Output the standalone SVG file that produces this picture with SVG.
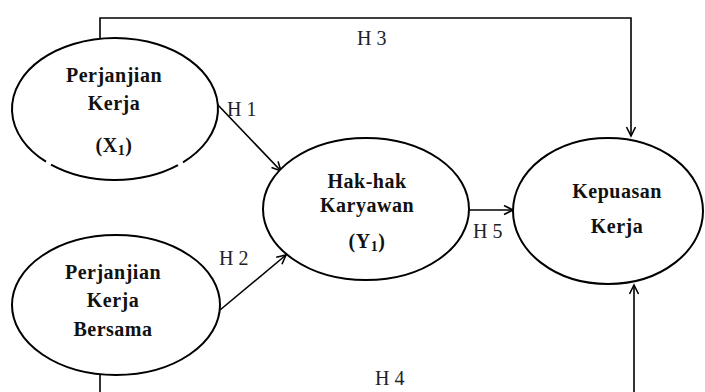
<svg xmlns="http://www.w3.org/2000/svg" width="705" height="392" viewBox="0 0 705 392">
<style>
.node{fill:#fff;stroke:#000;stroke-width:2}
.t{font-family:"Liberation Serif","Times New Roman",serif;font-weight:bold;font-size:20px;letter-spacing:0.5px;fill:#111;text-anchor:middle}
.lbl{font-family:"Liberation Serif","Times New Roman",serif;font-size:20px;fill:#222}
.c{fill:none;stroke:#000;stroke-width:1.6}
</style>
<defs>
<marker id="ah" markerUnits="userSpaceOnUse" markerWidth="14" markerHeight="14" refX="10" refY="5" orient="auto">
<path d="M1,0.5 L10,5 L1,9.5" fill="none" stroke="#000" stroke-width="1.6"/>
</marker>
</defs>
<rect width="705" height="392" fill="#fff"/>
<g id="connectors">
<polyline class="c" points="100,38 100,18 631,18 631,136" marker-end="url(#ah)"/>
<line class="c" x1="217" y1="104" x2="281" y2="171" marker-end="url(#ah)"/>
<line class="c" x1="220" y1="310" x2="286" y2="255" marker-end="url(#ah)"/>
<line class="c" x1="468" y1="210" x2="513" y2="210" marker-end="url(#ah)"/>
<polyline class="c" points="100,375 100,392"/>
<line class="c" x1="634" y1="392" x2="634" y2="285" marker-end="url(#ah)"/>
<text class="lbl" x="357" y="45">H 3</text>
<text class="lbl" x="227" y="116">H 1</text>
<text class="lbl" x="219" y="265">H 2</text>
<text class="lbl" x="473" y="238">H 5</text>
<text class="lbl" x="375" y="385">H 4</text>
</g>
<g id="perjanjian-kerja">
<path class="node" d="M183,162.3 A103,71 0 1 0 46,161.7" fill="none"/>
<path class="node" d="M51,164.6 A103,71 0 0 0 178,165.2" fill="none"/>
<text class="t" x="114" y="82">Perjanjian</text>
<text class="t" x="114" y="110">Kerja</text>
<text class="t" x="114" y="152">(X<tspan font-size="14" dy="3">1</tspan><tspan dy="-3">)</tspan></text>
</g>
<g id="perjanjian-kerja-bersama">
<ellipse class="node" cx="116" cy="305" rx="104" ry="70"/>
<text class="t" x="113" y="279">Perjanjian</text>
<text class="t" x="113" y="307">Kerja</text>
<text class="t" x="113" y="336">Bersama</text>
</g>
<g id="hak-hak-karyawan">
<ellipse class="node" cx="366" cy="209" rx="103" ry="71"/>
<text class="t" x="367" y="188">Hak-hak</text>
<text class="t" x="367" y="212">Karyawan</text>
<text class="t" x="367" y="248">(Y<tspan font-size="14" dy="3">1</tspan><tspan dy="-3">)</tspan></text>
</g>
<g id="kepuasan-kerja">
<ellipse class="node" cx="608" cy="211" rx="95" ry="73"/>
<text class="t" x="617" y="198">Kepuasan</text>
<text class="t" x="617" y="233">Kerja</text>
</g>
</svg>
